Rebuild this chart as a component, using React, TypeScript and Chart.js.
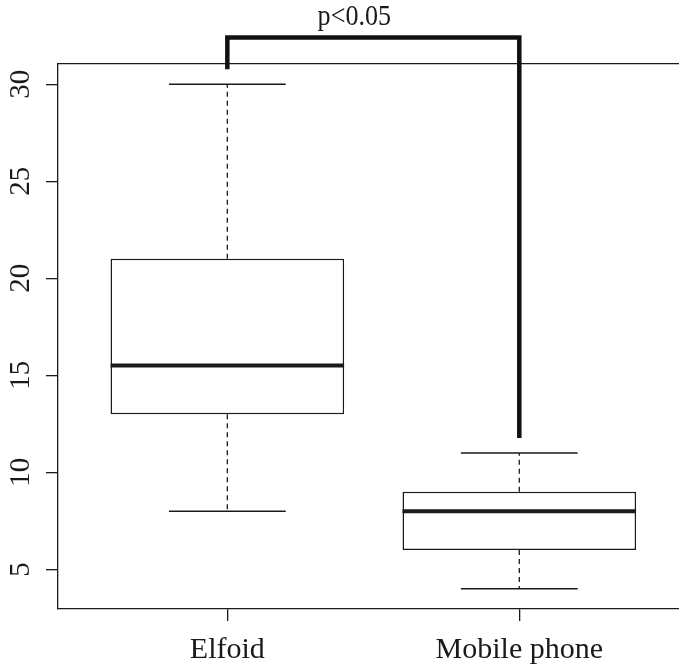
import React, { useEffect, useRef } from "react";
import { Chart, registerables } from "chart.js";

Chart.register(...registerables);

// Five-number summaries per group
const CATEGORIES = ["Elfoid", "Mobile phone"];
const WHISKER_LOW = [8, 4];
const Q1 = [13, 6];
const MEDIAN = [15.5, 8];
const Q3 = [21, 9];
const WHISKER_HIGH = [30, 11];

// Axes
const Y_TICKS = [5, 10, 15, 20, 25, 30];
const Y_RANGE = [2.96, 31.04];
const X_RANGE = [0.42, 2.547];

// Significance bracket: group positions, then left foot / bar / right foot heights
const BRACKET_X = [1, 2];
const BRACKET_Y = [30.77, 32.41, 11.77];
const P_LABEL = "p<0.05";
const P_LABEL_X = 1.435;

const INK = "#1a1a1a";
const SERIF = '"Liberation Serif", "Times New Roman", serif';
const BOX_HALF = 0.4;
const CAP_HALF = 0.2;

type Pt = { x: number; y: number | null };

function segments(build: (i: number) => [Pt, Pt][]): Pt[] {
  const out: Pt[] = [];
  CATEGORIES.forEach((_, i) => {
    build(i).forEach(([a, b]) => {
      out.push(a, b, { x: b.x, y: null });
    });
  });
  return out;
}

const yLabelPlugin = {
  id: "yLabels",
  afterDraw(chart: any) {
    const { ctx, chartArea } = chart;
    const y = chart.scales.y;
    ctx.save();
    ctx.font = `29px ${SERIF}`;
    ctx.fillStyle = INK;
    ctx.textAlign = "center";
    ctx.textBaseline = "alphabetic";
    y.ticks.forEach((t: any) => {
      const py = y.getPixelForValue(t.value);
      ctx.save();
      ctx.translate(chartArea.left - 29, py);
      ctx.rotate(-Math.PI / 2);
      ctx.fillText(String(t.value), 0, 0);
      ctx.restore();
    });
    ctx.restore();
  },
};

const bracketPlugin = {
  id: "bracket",
  afterDraw(chart: any) {
    const { ctx } = chart;
    const xs = chart.scales.x;
    const ys = chart.scales.y;
    const x1 = xs.getPixelForValue(BRACKET_X[0]);
    const x2 = xs.getPixelForValue(BRACKET_X[1]);
    const yL = ys.getPixelForValue(BRACKET_Y[0]);
    const yTop = ys.getPixelForValue(BRACKET_Y[1]);
    const yR = ys.getPixelForValue(BRACKET_Y[2]);
    ctx.save();
    ctx.strokeStyle = "#111";
    ctx.lineWidth = 4.5;
    ctx.lineJoin = "miter";
    ctx.lineCap = "butt";
    ctx.beginPath();
    ctx.moveTo(x1, yL);
    ctx.lineTo(x1, yTop);
    ctx.lineTo(x2, yTop);
    ctx.lineTo(x2, yR);
    ctx.stroke();
    // slightly condensed serif for the p-value label
    const lx = xs.getPixelForValue(P_LABEL_X);
    ctx.translate(lx, yTop - 12);
    ctx.scale(0.9, 1);
    ctx.font = `29px ${SERIF}`;
    ctx.fillStyle = INK;
    ctx.textAlign = "center";
    ctx.textBaseline = "alphabetic";
    ctx.fillText(P_LABEL, 0, 0);
    ctx.restore();
  },
};

export default function App() {
  const canvasRef = useRef<HTMLCanvasElement | null>(null);

  useEffect(() => {
    if (!canvasRef.current) return;

    const boxes = CATEGORIES.map((_, i) => ({ x: i + 1, y: [Q1[i], Q3[i]] }));
    const medians = segments((i) => [
      [
        { x: i + 1 - BOX_HALF, y: MEDIAN[i] },
        { x: i + 1 + BOX_HALF, y: MEDIAN[i] },
      ],
    ]);
    const whiskers = segments((i) => [
      [
        { x: i + 1, y: Q3[i] },
        { x: i + 1, y: WHISKER_HIGH[i] },
      ],
      [
        { x: i + 1, y: Q1[i] },
        { x: i + 1, y: WHISKER_LOW[i] },
      ],
    ]);
    const caps = segments((i) => [
      [
        { x: i + 1 - CAP_HALF, y: WHISKER_HIGH[i] },
        { x: i + 1 + CAP_HALF, y: WHISKER_HIGH[i] },
      ],
      [
        { x: i + 1 - CAP_HALF, y: WHISKER_LOW[i] },
        { x: i + 1 + CAP_HALF, y: WHISKER_LOW[i] },
      ],
    ]);

    const lineBase = {
      type: "line" as const,
      pointRadius: 0,
      pointHoverRadius: 0,
      fill: false,
      tension: 0,
      spanGaps: false,
      borderColor: INK,
    };

    const chart = new Chart(canvasRef.current, {
      type: "bar",
      data: {
        datasets: [
          { ...lineBase, data: medians as any, borderWidth: 4 },
          {
            type: "bar",
            data: boxes as any,
            backgroundColor: "#ffffff",
            borderColor: INK,
            borderWidth: 1.5,
            borderSkipped: false,
            categoryPercentage: 1,
            barPercentage: BOX_HALF * 2,
          },
          { ...lineBase, data: caps as any, borderWidth: 1.5 },
          { ...lineBase, data: whiskers as any, borderWidth: 1.3, borderDash: [5, 4] },
        ] as any,
      },
      options: {
        animation: false,
        responsive: false,
        devicePixelRatio: 1,
        layout: { padding: 0 },
        plugins: { legend: { display: false }, tooltip: { enabled: false } },
        events: [],
        scales: {
          x: {
            type: "linear",
            position: "bottom",
            offset: false,
            min: X_RANGE[0],
            max: X_RANGE[1],
            afterBuildTicks: (s: any) => {
              s.ticks = CATEGORIES.map((_, i) => ({ value: i + 1 }));
            },
            afterFit: (s: any) => {
              s.height = 61;
            },
            ticks: {
              callback: (v: any) => CATEGORIES[Math.round(Number(v)) - 1] ?? "",
              font: { family: SERIF, size: 30 },
              color: INK,
              padding: 11,
              maxRotation: 0,
              autoSkip: false,
            },
            grid: {
              offset: false,
              drawOnChartArea: false,
              drawTicks: true,
              tickLength: 12,
              color: INK,
              lineWidth: 1.3,
            },
            border: { display: true, color: INK, width: 1.3 },
          },
          x2: {
            type: "linear",
            position: "top",
            display: true,
            offset: false,
            min: X_RANGE[0],
            max: X_RANGE[1],
            afterFit: (s: any) => {
              s.height = 64;
            },
            ticks: { display: false },
            grid: { display: false, drawTicks: false, offset: false },
            border: { display: true, color: INK, width: 1.3 },
          },
          y: {
            type: "linear",
            min: Y_RANGE[0],
            max: Y_RANGE[1],
            afterBuildTicks: (s: any) => {
              s.ticks = Y_TICKS.map((v) => ({ value: v }));
            },
            afterFit: (s: any) => {
              s.width = 58;
            },
            ticks: { display: false },
            grid: {
              drawOnChartArea: false,
              drawTicks: true,
              tickLength: 12,
              color: INK,
              lineWidth: 1.3,
            },
            border: { display: true, color: INK, width: 1.3 },
          },
        },
      },
      plugins: [yLabelPlugin, bracketPlugin],
    });

    return () => chart.destroy();
  }, []);

  return (
    <div
      style={{
        position: "fixed",
        left: 0,
        top: 0,
        width: 679,
        height: 670,
        background: "#ffffff",
      }}
    >
      <canvas ref={canvasRef} width={679} height={670} />
    </div>
  );
}
